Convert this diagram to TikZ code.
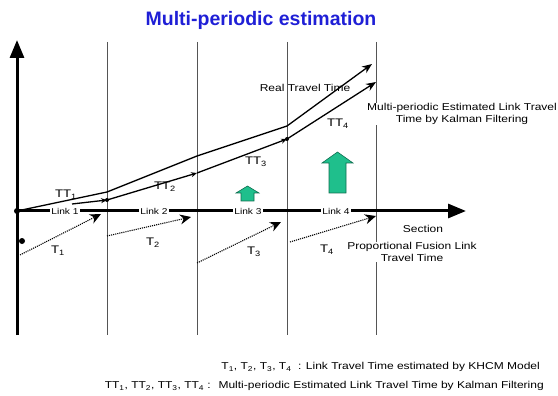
\documentclass[tikz,border=0pt]{standalone}
\usepackage{fontspec}
\setmainfont{Liberation Sans}
\newfontfamily\gulim[FakeStretch=1.2]{Liberation Sans}
\usetikzlibrary{arrows.meta,positioning}
\definecolor{ctitle}{HTML}{1F1FD6}
\definecolor{cgreen}{HTML}{1FBF8C}
\definecolor{cgreendk}{HTML}{0E6E50}
\definecolor{cgrid}{HTML}{555555}
\tikzset{
  lbl/.style={font=\gulim\fontsize{10}{11.5}\selectfont, inner sep=1pt},
  ttlbl/.style={lbl, font=\gulim\fontsize{11}{12}\selectfont},
  linklbl/.style={font=\gulim\fontsize{8.5}{9}\selectfont, fill=white, inner sep=1pt},
  note/.style={lbl, fill=white, align=center},
  legend/.style={lbl, anchor=east},
  axis/.style={line width=3pt, -{Triangle[length=18pt,width=14pt]}},
  grid/.style={draw=cgrid, line width=1pt},
  kalman/.style={line width=1.3pt},
  kstep/.style={kalman, -{Stealth[length=6pt,width=5pt]}},
  kend/.style={kalman, -{Stealth[length=10pt,width=8pt]}},
  khcm/.style={densely dotted, line width=1.1pt, -{Stealth[length=11pt,width=10pt]}},
  dot/.style={circle, fill=black, inner sep=0pt, minimum size=6pt},
  uparrow/.style={fill=cgreen, draw=cgreendk, line width=0.6pt},
}

\begin{document}
\begin{tikzpicture}[x=1pt, y=-1pt]
\useasboundingbox (0,0) rectangle (558,396);
% title
\node[font=\bfseries\fontsize{19.5}{21}\selectfont, text=ctitle] (title) at (261,20) {Multi-periodic estimation};
% section borders
\foreach \x/\n in {107/1,197/2,287/3,376/4} {
  \coordinate (g\n t) at (\x,42);
  \coordinate (g\n b) at (\x,335);
  \draw[grid] (g\n t) -- (g\n b);
}
% axes
\coordinate (o) at (17,211);
\coordinate (ytop) at (17,40);
\coordinate (ybot) at (17,335);
\coordinate (xend) at (466,211);
\draw[axis] (ybot) -- (ytop);
\draw[axis] (o) -- (xend);
\node[dot] (odot) at (o) {};
\node[dot] (sdot) at (22,241) {};
% links
\node[linklbl] (l1) at (65,211) {Link 1};
\node[linklbl] (l2) at (154,211) {Link 2};
\node[linklbl] (l3) at (248,211) {Link 3};
\node[linklbl] (l4) at (336,211) {Link 4};
\node[lbl] (sec) at (423,229) {Section};
% real travel time
\coordinate (r1) at (107,192);
\coordinate (r2) at (197,156);
\coordinate (r3) at (287,126);
\coordinate (r4) at (372,64);
\draw[kend] (o) -- (r1) -- (r2) -- (r3) -- (r4);
\node[lbl] (real) at (305,88) {Real Travel Time};
% kalman estimate
\coordinate (e0) at (72,204);
\coordinate (e1) at (107,200);
\coordinate (e2) at (197,173);
\coordinate (e3) at (287,139);
\coordinate (e4) at (376,82);
\draw[kstep] (e0) -- (e1);
\draw[kstep] (e1) -- (e2);
\draw[kstep] (e2) -- (e3);
\draw[kend] (e3) -- (e4);
\node[dot, minimum size=4pt] (e1dot) at (e1) {};
\node[dot, minimum size=4pt] (e3dot) at (e3) {};
\node[ttlbl] (tt1) at (66,195) {TT\textsubscript{1}};
\node[ttlbl] (tt2) at (165,187) {TT\textsubscript{2}};
\node[ttlbl] (tt3) at (256,162) {TT\textsubscript{3}};
\node[ttlbl] (tt4) at (338,124) {TT\textsubscript{4}};
\node[note] (kf) at (462,114) {Multi-periodic Estimated Link Travel\\Time by Kalman Filtering};
% khcm
\coordinate (a1) at (20,255);  \coordinate (b1) at (101,214);
\coordinate (a2) at (107,236); \coordinate (b2) at (191,217);
\coordinate (a3) at (197,263); \coordinate (b3) at (281,222);
\coordinate (a4) at (290,242); \coordinate (b4) at (376,216);
\foreach \n in {1,...,4} \draw[khcm] (a\n) -- (b\n);
\node[ttlbl] (t1) at (58,251) {T\textsubscript{1}};
\node[ttlbl] (t2) at (153,243) {T\textsubscript{2}};
\node[ttlbl] (t3) at (254,252) {T\textsubscript{3}};
\node[ttlbl] (t4) at (327,250) {T\textsubscript{4}};
\node[note] (pf) at (412,252) {Proportional Fusion Link\\Travel Time};
% green arrows
\draw[uparrow] (241,201) -- (241,193) -- (236,193) -- (247.5,186) -- (259,193) -- (254,193) -- (254,201) -- cycle;
\draw[uparrow] (329,193) -- (329,163) -- (322,163) -- (337.5,152) -- (353,163) -- (346,163) -- (346,193) -- cycle;
% legend
\node[legend] (leg1) at (541,367) {T\textsubscript{1}, T\textsubscript{2}, T\textsubscript{3}, T\textsubscript{4} \ : Link Travel Time estimated by KHCM Model};
\node[legend] (leg2) at (545,386) {TT\textsubscript{1}, TT\textsubscript{2}, TT\textsubscript{3}, TT\textsubscript{4} : \ Multi-periodic Estimated Link Travel Time by Kalman Filtering};
\end{tikzpicture}
\end{document}
